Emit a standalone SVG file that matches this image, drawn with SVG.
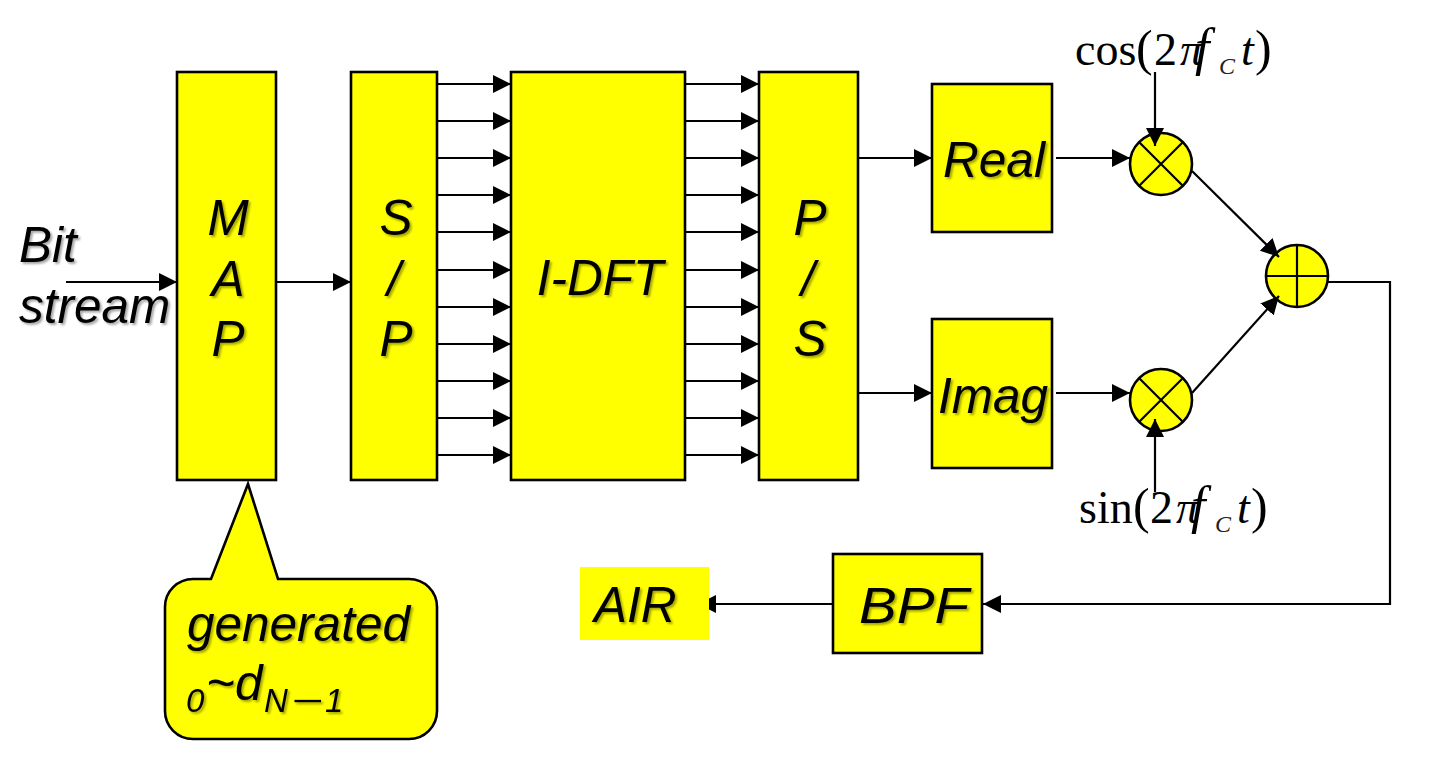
<svg xmlns="http://www.w3.org/2000/svg" width="1437" height="774" viewBox="0 0 1437 774">
<style>
.b{fill:#ff0;stroke:#000;stroke-width:2.6}
.l{stroke:#000;stroke-width:2.2;fill:none}
.a{marker-end:url(#ah)}
.x{stroke:#000;stroke-width:2.2;fill:none}
.t{font-family:"Liberation Sans",Arial,sans-serif;font-style:italic;font-size:49.5px;fill:#000;filter:url(#sh)}
.s{font-size:33px}
.m{font-family:"Liberation Serif","Times New Roman",serif;font-size:46px;fill:#000}
.i{font-style:italic}
.p{font-size:50px}
.f{font-style:italic;font-size:52px}
.c{font-style:italic;font-size:24px;fill:#222}
</style>
<defs>
<marker id="ah" markerUnits="userSpaceOnUse" markerWidth="18" markerHeight="18" refX="18" refY="9" orient="auto"><path d="M0 0L18 9L0 18Z" fill="#000"/></marker>
<filter id="sh" x="-10%" y="-10%" width="125%" height="130%"><feDropShadow dx="2" dy="2" stdDeviation="1.2" flood-color="#000" flood-opacity=".35"/></filter>
</defs>
<g id="callout"><path class="b" d="M193 579H211L248 484L278 579H409A28 28 0 0 1 437 607V711A28 28 0 0 1 409 739H193A28 28 0 0 1 165 711V607A28 28 0 0 1 193 579Z"/>
<text class="t" x="187" y="641">generated</text>
<text class="t" y="700"><tspan class="s" x="186" y="712">0</tspan><tspan x="206" y="700">~d</tspan><tspan class="s" x="264" y="712">N</tspan><tspan class="s" x="291" y="712" textLength="32" lengthAdjust="spacingAndGlyphs">−</tspan><tspan class="s" x="325" y="712">1</tspan></text></g>
<g id="map"><rect class="b" x="177" y="72" width="99" height="408"/><text class="t" x="228" y="235" text-anchor="middle">M</text><text class="t" x="228" y="296" text-anchor="middle">A</text><text class="t" x="228" y="356" text-anchor="middle">P</text></g>
<g id="sp"><rect class="b" x="351" y="72" width="86" height="408"/><text class="t" x="396" y="235" text-anchor="middle">S</text><text class="t" x="394" y="296" text-anchor="middle">/</text><text class="t" x="396" y="356" text-anchor="middle">P</text></g>
<g id="idft"><rect class="b" x="511" y="72" width="174" height="408"/><text class="t" x="600" y="295" text-anchor="middle">I-DFT</text></g>
<g id="ps"><rect class="b" x="759" y="72" width="99" height="408"/><text class="t" x="810" y="235" text-anchor="middle">P</text><text class="t" x="808" y="296" text-anchor="middle">/</text><text class="t" x="810" y="356" text-anchor="middle">S</text></g>
<g id="real"><rect class="b" x="932" y="84" width="120" height="148"/><text class="t" x="994" y="177" text-anchor="middle">Real</text></g>
<g id="imag"><rect class="b" x="932" y="319" width="120" height="149"/><text class="t" x="993" y="413" text-anchor="middle">Imag</text></g>
<g id="mul1"><circle class="b" cx="1161" cy="164" r="31"/><path class="x" d="M1139 142L1183 186M1183 142L1139 186"/></g>
<g id="mul2"><circle class="b" cx="1161" cy="400" r="31"/><path class="x" d="M1139 378L1183 422M1183 378L1139 422"/></g>
<g id="sum"><circle class="b" cx="1297" cy="276" r="31"/><path class="x" d="M1266 276H1328M1297 245V307"/></g>
<g id="bpf"><rect class="b" x="833" y="554" width="149" height="99"/><text class="t" x="859" y="623" textLength="110" lengthAdjust="spacingAndGlyphs">BPF</text></g>
<g id="connectors">
<path class="l a" d="M66 282H177"/>
<path class="l a" d="M276 282H351"/>
<path class="l a" d="M437 84H511"/><path class="l a" d="M437 121H511"/><path class="l a" d="M437 158H511"/><path class="l a" d="M437 195H511"/><path class="l a" d="M437 232H511"/><path class="l a" d="M437 270H511"/><path class="l a" d="M437 307H511"/><path class="l a" d="M437 344H511"/><path class="l a" d="M437 381H511"/><path class="l a" d="M437 418H511"/><path class="l a" d="M437 455H511"/>
<path class="l a" d="M685 84H759"/><path class="l a" d="M685 121H759"/><path class="l a" d="M685 158H759"/><path class="l a" d="M685 195H759"/><path class="l a" d="M685 232H759"/><path class="l a" d="M685 270H759"/><path class="l a" d="M685 307H759"/><path class="l a" d="M685 344H759"/><path class="l a" d="M685 381H759"/><path class="l a" d="M685 418H759"/><path class="l a" d="M685 455H759"/>
<path class="l a" d="M858 158H932"/><path class="l a" d="M858 393H932"/>
<path class="l a" d="M1056 158H1130"/><path class="l a" d="M1056 393H1130"/>
<path class="l a" d="M1155 72V146"/><path class="l a" d="M1155 492V419"/>
<path class="l a" d="M1192 171L1279 257"/><path class="l a" d="M1192 393L1279 296"/>
<path class="l a" d="M1328 282H1390V604H983"/>
<path class="l a" d="M833 604H698"/>
</g>
<g id="air"><rect x="580" y="567" width="129" height="73" fill="#ff0"/><text class="t" x="594" y="622">AIR</text></g>
<g id="labels">
<text class="t" x="19" y="262">Bit</text>
<text class="t" x="19" y="323">stream</text>
<text class="m" y="65"><tspan x="1075">cos</tspan><tspan class="p" x="1136">(</tspan><tspan x="1154">2</tspan><tspan class="i" x="1180">π</tspan><tspan class="f" x="1195">f</tspan><tspan class="c" x="1219" y="74">C</tspan><tspan class="i" x="1241" y="65">t</tspan><tspan class="p" x="1255">)</tspan></text>
<text class="m" y="523"><tspan x="1079">sin</tspan><tspan class="p" x="1133">(</tspan><tspan x="1150">2</tspan><tspan class="i" x="1176">π</tspan><tspan class="f" x="1191">f</tspan><tspan class="c" x="1215" y="532">C</tspan><tspan class="i" x="1237" y="523">t</tspan><tspan class="p" x="1251">)</tspan></text>
</g>
</svg>
